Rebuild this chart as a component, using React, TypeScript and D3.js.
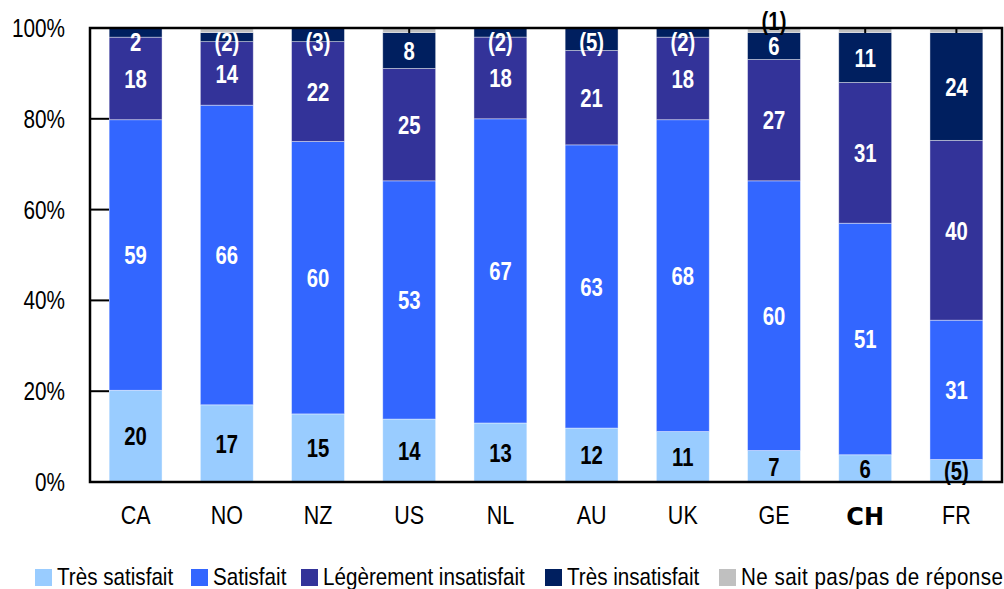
import React from "react";
import * as d3 from "d3";

// pays (axe horizontal)
const countries = ["CA", "NO", "NZ", "US", "NL", "AU", "UK", "GE", "CH", "FR"];

// séries, en % (du bas vers le haut)
const tresSatisfait = [20, 17, 15, 14, 13, 12, 11, 7, 6, 5];
const satisfait = [59, 66, 60, 53, 67, 63, 68, 60, 51, 31];
const legerementInsatisfait = [18, 14, 22, 25, 18, 21, 18, 27, 31, 40];
const tresInsatisfait = [2, 2, 3, 8, 2, 5, 2, 6, 11, 24];
const neSaitPas = [0, 1, 0, 1, 0, 0, 0, 1, 1, 1];

// étiquettes affichées (parenthèses = petits effectifs)
const tresSatisfaitLabels = ["20", "17", "15", "14", "13", "12", "11", "7", "6", "(5)"];
const satisfaitLabels = ["59", "66", "60", "53", "67", "63", "68", "60", "51", "31"];
const legerementLabels = ["18", "14", "22", "25", "18", "21", "18", "27", "31", "40"];
const tresInsatisfaitLabels = ["2", "(2)", "(3)", "8", "(2)", "(5)", "(2)", "6", "11", "24"];
const neSaitPasLabels = ["", "", "", "", "", "", "", "(1)", "", ""];
const neSaitPasTick = [0, 0, 0, 1, 0, 0, 0, 0, 1, 1];

const yTicks = [0, 0.2, 0.4, 0.6, 0.8, 1];

const seriesNames = [
  "Très satisfait",
  "Satisfait",
  "Légèrement insatisfait",
  "Très insatisfait",
  "Ne sait pas/pas de réponse",
];

const keys = ["ts", "s", "li", "ti", "ns"];
const colors = ["#99CCFF", "#3366FF", "#333399", "#001F5F", "#C0C0C0"];
const labelColors = ["#000", "#fff", "#fff", "#fff", "#000"];
const allLabels = [tresSatisfaitLabels, satisfaitLabels, legerementLabels, tresInsatisfaitLabels, neSaitPasLabels];

const FONT = "'Liberation Sans', Arial, sans-serif";

// pas de police étroite installée : on compresse horizontalement
function NT({ x, y, sx = 0.86, children, ...rest }: any) {
  return (
    <text transform={`translate(${x},${y}) scale(${sx},1)`} fontFamily={FONT} {...rest}>
      {children}
    </text>
  );
}

export default function App() {
  const width = 1004;
  const height = 589;
  const margin = { top: 28, right: 2, bottom: 107, left: 90 };

  const rows = countries.map((c, i) => ({
    country: c,
    ts: tresSatisfait[i],
    s: satisfait[i],
    li: legerementInsatisfait[i],
    ti: tresInsatisfait[i],
    ns: neSaitPas[i],
  }));

  const stack = d3.stack<any>().keys(keys).offset(d3.stackOffsetExpand);
  const series = stack(rows);

  const x = d3
    .scaleBand()
    .domain(countries)
    .range([margin.left, width - margin.right])
    .paddingInner(0.42)
    .paddingOuter(0.21);

  const y = d3
    .scaleLinear()
    .domain([0, 1])
    .range([height - margin.bottom, margin.top]);

  const legendX = [35, 191, 301, 545, 719];

  return (
    <svg
      width={width}
      height={height}
      style={{ position: "absolute", left: 0, top: 0, background: "#fff" }}
    >
      {/* barres */}
      {series.map((s, si) => (
        <g key={s.key} fill={colors[si]}>
          {s.map((d, i) => {
            const h = y(d[0]) - y(d[1]);
            if (h <= 0) return null;
            return (
              <rect
                key={i}
                x={x(countries[i])}
                y={y(d[1])}
                width={x.bandwidth()}
                height={h}
                stroke="#ffffff"
                strokeOpacity={0.5}
                strokeWidth={0.8}
              />
            );
          })}
        </g>
      ))}

      {/* cadre */}
      <rect
        x={margin.left}
        y={margin.top}
        width={width - margin.left - margin.right}
        height={height - margin.top - margin.bottom}
        fill="none"
        stroke="#000"
        strokeWidth={2.5}
      />

      {/* graduations vers l'intérieur */}
      {yTicks.map((t) => (
        <g key={t}>
          <line x1={margin.left} x2={margin.left + 19} y1={y(t)} y2={y(t)} stroke="#000" strokeWidth={2} />
          <NT x={65} y={y(t) + 9} textAnchor="end" fontSize={25} sx={0.83} fill="#000">
            {d3.format(".0%")(t)}
          </NT>
        </g>
      ))}

      {/* étiquettes de l'axe des x */}
      {countries.map((c) =>
        c === "CH" ? (
          <text
            key={c}
            x={x(c)! + x.bandwidth() / 2}
            y={525}
            textAnchor="middle"
            fontFamily="'DejaVu Sans', Verdana, sans-serif"
            fontWeight={900}
            fontSize={24}
            fill="#000"
          >
            {c}
          </text>
        ) : (
          <NT key={c} x={x(c)! + x.bandwidth() / 2} y={524} textAnchor="middle" fontSize={25} fill="#000">
            {c}
          </NT>
        )
      )}

      {/* étiquettes de données */}
      {series.map((s, si) =>
        s.map((d, i) => {
          const label = allLabels[si][i];
          const cx = x(countries[i])! + x.bandwidth() / 2;
          if (si === 4) {
            if (label)
              return (
                <NT key={`l${si}-${i}`} x={cx} y={y(d[1]) + 2} textAnchor="middle" sx={0.78}
                  fontWeight={700} fontSize={26} fill="#000">
                  {label}
                </NT>
              );
            if (neSaitPasTick[i])
              return (
                <line key={`t${i}`} x1={cx} x2={cx} y1={y(d[1])} y2={y(d[1]) + 5} stroke="#000" strokeWidth={2} />
              );
            return null;
          }
          if (!label) return null;
          let cy = (y(d[0]) + y(d[1])) / 2;
          cy = Math.max(cy, margin.top + 14);
          return (
            <NT
              key={`l${si}-${i}`}
              x={cx}
              y={cy + 9.3}
              textAnchor="middle"
              sx={0.78}
              fontWeight={700}
              fontSize={26}
              fill={labelColors[si]}
            >
              {label}
            </NT>
          );
        })
      )}

      {/* légende */}
      {seriesNames.map((n, i) => (
        <g key={n} transform={`translate(${legendX[i]},569)`}>
          <rect width={17} height={17} fill={colors[i]} />
          <NT
            x={22}
            y={16}
            fontSize={24}
            fill="#000"
            textLength={i === 4 ? 262 / 0.86 : undefined}
            lengthAdjust="spacing"
          >
            {n}
          </NT>
        </g>
      ))}
    </svg>
  );
}
